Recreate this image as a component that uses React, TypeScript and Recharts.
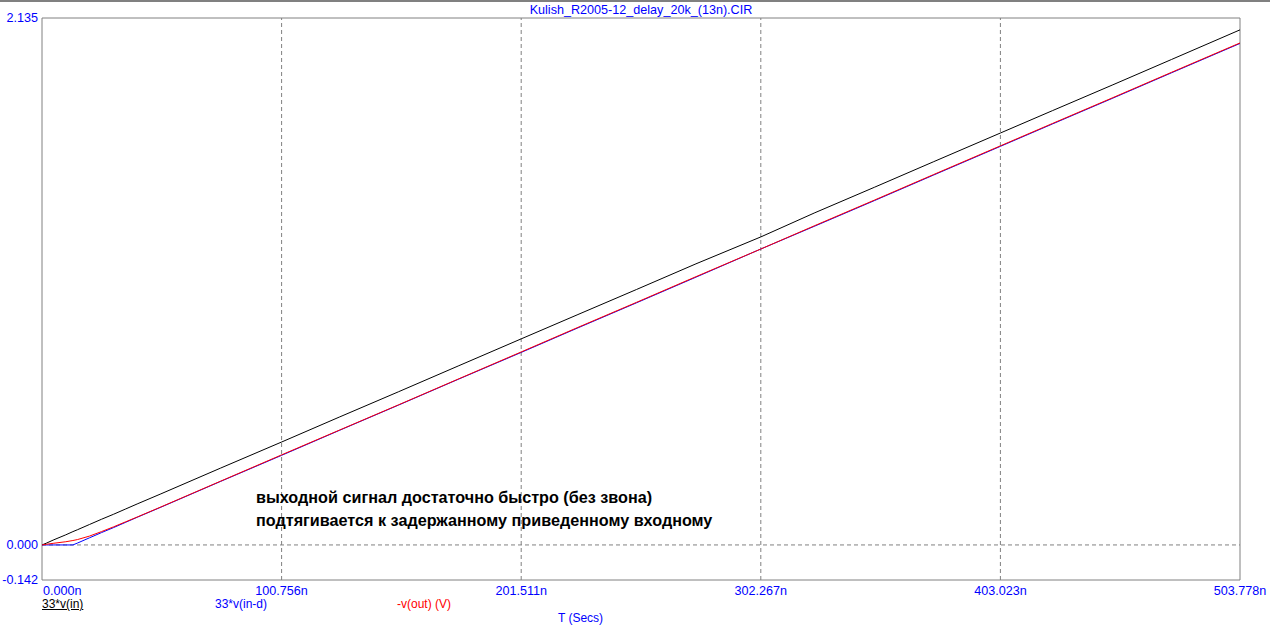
import { LineChart, Line, XAxis, YAxis, ReferenceLine, ReferenceArea } from 'recharts';

const times = [0, 2, 5, 10, 13, 15, 20, 25, 30, 35, 40, 50, 75, 100.756, 125, 150, 175, 201.511, 225, 250, 275, 302.267, 325, 350, 375, 403.023, 425, 450, 475, 503.778];
const vIn = [0, 0.008, 0.021, 0.041, 0.054, 0.062, 0.083, 0.104, 0.124, 0.145, 0.166, 0.207, 0.311, 0.417, 0.518, 0.621, 0.725, 0.835, 0.932, 1.035, 1.139, 1.248, 1.346, 1.449, 1.553, 1.669, 1.760, 1.863, 1.967, 2.087];
const vInD = [0, 0, 0, 0, 0, 0.008, 0.029, 0.050, 0.070, 0.091, 0.112, 0.153, 0.257, 0.363, 0.464, 0.567, 0.671, 0.780, 0.878, 0.981, 1.085, 1.199, 1.292, 1.395, 1.499, 1.615, 1.706, 1.809, 1.913, 2.032];
const vOut = [0, 0.003, 0.007, 0.013, 0.018, 0.022, 0.036, 0.054, 0.073, 0.093, 0.113, 0.154, 0.258, 0.365, 0.465, 0.568, 0.672, 0.782, 0.880, 0.983, 1.087, 1.199, 1.294, 1.397, 1.501, 1.617, 1.708, 1.811, 1.915, 2.034];

const xTicks = [0, 100.756, 201.511, 302.267, 403.023, 503.778];
const yTicks = [-0.142, 0, 2.135];

const data = times.map((t, i) => ({ t, vin: vIn[i], vind: vInD[i], vout: vOut[i] }));

const FONT = '"Liberation Sans", Arial, sans-serif';
const BLUE = '#0000ff';
const GRID = '#808080';

// axis x/y given to custom ticks are the tick line start on the axis
const XTick = (props: any) => {
  const { x, y, payload, index } = props;
  return (
    <text
      x={index === 0 ? x + 1 : x}
      y={y + 13}
      textAnchor={index === 0 ? 'start' : 'middle'}
      fill={BLUE}
      fontSize={12.6}
      fontFamily={FONT}
    >
      {Number(payload.value).toFixed(3) + 'n'}
    </text>
  );
};

const YTick = (props: any) => {
  const { x, y, payload } = props;
  return (
    <text x={x - 2} y={y + 4} textAnchor="end" fill={BLUE} fontSize={12.6} fontFamily={FONT}>
      {Number(payload.value).toFixed(3)}
    </text>
  );
};

const label = (txt: string, left: number, top: number, color: string, extra: any = {}) => (
  <div style={{ position: 'absolute', left, top, color, fontSize: 12, fontFamily: FONT, whiteSpace: 'nowrap', ...extra }}>
    {txt}
  </div>
);

export default function App() {
  return (
    <div style={{ position: 'absolute', left: 0, top: 0, width: 1270, height: 629, background: '#fff', overflow: 'hidden' }}>
      <div style={{ position: 'absolute', left: 0, top: 0, width: 1270, height: 2, background: '#808080' }} />
      <div style={{ position: 'absolute', left: 0, top: 3, width: 1282, textAlign: 'center', color: BLUE, fontSize: 12.6, fontFamily: FONT }}>
        Kulish_R2005-12_delay_20k_(13n).CIR
      </div>
      <LineChart width={1270} height={629} data={data} margin={{ top: 18, right: 30, left: 0, bottom: 0 }}>
        <XAxis
          dataKey="t"
          type="number"
          domain={[0, 503.778]}
          ticks={xTicks}
          tick={XTick}
          tickSize={0}
          axisLine={false}
          height={49}
          interval={0}
        />
        <YAxis
          type="number"
          domain={[-0.142, 2.135]}
          ticks={yTicks}
          tick={YTick}
          tickSize={0}
          axisLine={false}
          width={42}
          interval={0}
        />
        {xTicks.slice(1, -1).map((v) => (
          <ReferenceLine key={v} x={v} stroke={GRID} strokeDasharray="4 3" />
        ))}
        <ReferenceLine y={0} stroke={GRID} strokeDasharray="4 3" />
        <ReferenceArea x1={0} x2={503.778} y1={-0.142} y2={2.135} fill="none" stroke={GRID} strokeWidth={1} />
        <Line dataKey="vin" stroke="#000000" strokeWidth={1} dot={false} isAnimationActive={false} />
        <Line dataKey="vind" stroke={BLUE} strokeWidth={1} dot={false} isAnimationActive={false} />
        <Line dataKey="vout" stroke="#ff0000" strokeWidth={1} dot={false} isAnimationActive={false} />
      </LineChart>
      <div style={{ position: 'absolute', left: 256, top: 486, fontSize: 16.2, fontWeight: 'bold', lineHeight: '23px', fontFamily: FONT, color: '#000' }}>
        выходной сигнал достаточно быстро (без звона)
        <br />
        подтягивается к задержанному приведенному входному
      </div>
      {label('33*v(in)', 42, 597, '#000', { textDecoration: 'underline' })}
      {label('33*v(in-d)', 215, 597, BLUE)}
      {label('-v(out) (V)', 397, 597, '#ff0000')}
      {label('T (Secs)', 558, 611, BLUE)}
    </div>
  );
}
